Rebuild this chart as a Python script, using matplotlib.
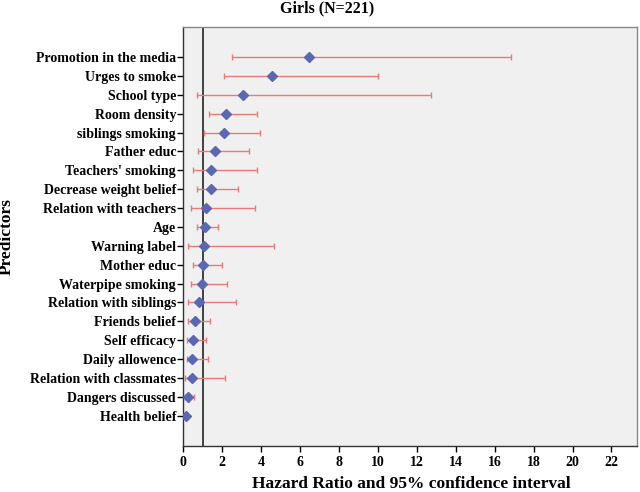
import numpy as np
import matplotlib
matplotlib.use('Agg')
import matplotlib.pyplot as plt

# Predictors, top to bottom
predictors = ['Promotion in the media', 'Urges to smoke', 'School type', 'Room density',
              'siblings smoking', 'Father educ', "Teachers' smoking", 'Decrease weight belief',
              'Relation with teachers', 'Age', 'Warning label', 'Mother educ',
              'Waterpipe smoking', 'Relation with siblings', 'Friends belief', 'Self efficacy',
              'Daily allowence', 'Relation with classmates', 'Dangers discussed', 'Health belief']

# Hazard ratios and 95% CI bounds
hr = [6.48, 4.58, 3.08, 2.23, 2.09, 1.63, 1.44, 1.44, 1.17, 1.15,
      1.08, 1.01, 0.99, 0.81, 0.63, 0.51, 0.46, 0.46, 0.26, 0.14]
ci_low = [2.50, 2.09, 0.74, 1.32, 1.10, 0.79, 0.53, 0.72, 0.39, 0.74,
          0.27, 0.50, 0.43, 0.27, 0.27, 0.22, 0.19, 0.10, 0.10, 0.05]
ci_high = [16.83, 10.03, 12.75, 3.82, 3.94, 3.41, 3.82, 2.81, 3.72, 1.80,
           4.68, 2.00, 2.28, 2.71, 1.37, 1.17, 1.27, 2.14, 0.57, 0.25]

plt.rcParams['font.family'] = ['Liberation Serif', 'DejaVu Serif']
plt.rcParams['font.weight'] = 'bold'

fig = plt.figure(figsize=(6.4, 4.92), dpi=100)
ax = fig.add_axes([0.286, 0.0935, 0.709, 0.852])
ax.set_facecolor('#f0f0f0')

y = np.arange(len(predictors))[::-1]
hr = np.array(hr)
err = [hr - np.array(ci_low), np.array(ci_high) - hr]

ax.axvline(1, color='#333333', lw=1.3, zorder=1)
ax.errorbar(hr, y, xerr=err, fmt='none', ecolor='#e87a7a', elinewidth=1.0,
            capsize=2.5, capthick=1.0, zorder=2)
ax.plot(hr, y, 'D', color='#5a68b4', markersize=5, zorder=3)

ax.set_xlim(0, 23.3)
ax.set_ylim(-1.6, 20.6)
ax.set_xticks(np.arange(0, 23, 2))
ax.set_yticks(y)
ax.set_yticklabels(predictors, fontsize=10, fontweight='bold')
ax.tick_params(axis='x', labelsize=10, length=4, width=1, direction='out')
ax.tick_params(axis='y', length=4, width=1, direction='out', pad=1)
for lab in ax.get_xticklabels():
    lab.set_fontweight('bold')

for s in ax.spines.values():
    s.set_color('#333333')
    s.set_linewidth(1.0)
ax.spines['top'].set_color('#888888')
ax.spines['right'].set_color('#888888')

fig.text(0.642, 1 - 484 / 492, 'Hazard Ratio and 95% confidence interval', fontsize=12.5,
         fontweight='bold', ha='center', va='center')
fig.text(0.011, 0.52, 'Predictors', rotation=90, fontsize=12.5, fontweight='bold',
         ha='center', va='center')
fig.text(0.511, 0.983, 'Girls (N=221)', fontsize=11.5, fontweight='bold',
         ha='center', va='center')

fig.savefig('out.png', dpi=100)
